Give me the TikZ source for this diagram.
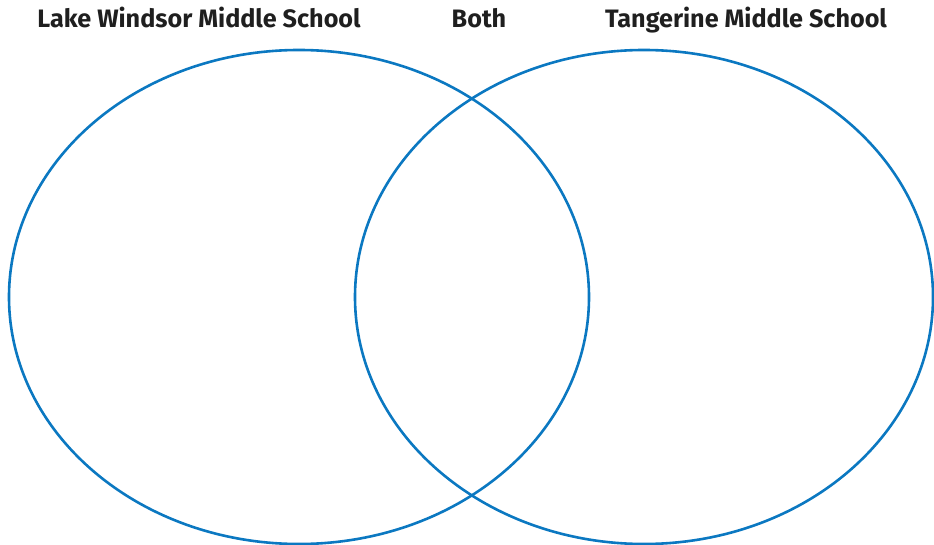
\documentclass[tikz,border=0pt]{standalone}
\usepackage{fontspec}
\setmainfont{Fira Sans}
\definecolor{vennblue}{HTML}{0B78C1}
\tikzset{
  circ/.style={draw=vennblue, line width=2.6pt},
  title/.style={font=\bfseries\fontsize{25.2}{29}\selectfont, text=black!88, anchor=base, inner sep=0pt}
}
\begin{document}
\begin{tikzpicture}[x=1pt,y=-1pt]
      \useasboundingbox (0,0) rectangle (934,545);
      % circles
      \draw[circ] (299,297) ellipse [x radius=290, y radius=247];
      \draw[circ] (644,297) ellipse [x radius=289, y radius=247];
      % headings
      \node[title] (lake) at (199,28) {Lake Windsor Middle School};
      \node[title] (both) at (479,28) {Both};
      \node[title] (tang) at (746,28) {Tangerine Middle School};
\end{tikzpicture}
\end{document}
